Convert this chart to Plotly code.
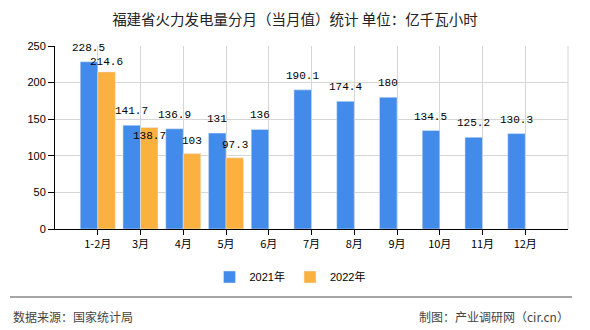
import plotly.graph_objects as go

categories = ["1-2月", "3月", "4月", "5月", "6月", "7月", "8月", "9月", "10月", "11月", "12月"]
values_2021 = [228.5, 141.7, 136.9, 131, 136, 190.1, 174.4, 180, 134.5, 125.2, 130.3]
values_2022 = [214.6, 138.7, 103, 97.3, None, None, None, None, None, None, None]
series_names = ["2021年", "2022年"]
title_text = "福建省火力发电量分月（当月值）统计 单位：亿千瓦小时"
source_text = "数据来源：国家统计局"
credit_text = "制图：产业调研网（cir.cn）"

# label placement (pixels above the bar top); a few are nudged to avoid collisions
label_shift_2021 = [14] * len(values_2021)
label_shift_2022 = [9.5, -9, 13, 13, 0, 0, 0, 0, 0, 0, 0]

blue = "#428bea"
orange = "#fbb140"
label_font = dict(family="Liberation Mono, monospace", size=11, color="#000")

fig = go.Figure()
fig.add_bar(x=categories, y=values_2021, name=series_names[0], marker_color=blue)
fig.add_bar(x=categories, y=values_2022, name=series_names[1], marker_color=orange)

fig.update_layout(
    width=590, height=330,
    margin=dict(l=55, r=22, t=46, b=101),
    paper_bgcolor="white", plot_bgcolor="white",
    barmode="group", bargap=0.18, bargroupgap=0,
    font=dict(family="Noto Sans CJK SC, sans-serif", size=11, color="#000"),
    title=dict(text=title_text, x=0.5, xanchor="center", y=1 - 20 / 330, yanchor="middle",
               font=dict(size=14.5, color="#222", family="Noto Sans CJK SC, sans-serif")),
    legend=dict(orientation="h", x=(290 - 55) / 513, xanchor="center",
                y=-(277 - 229) / 183, yanchor="middle",
                font=dict(size=11, family="Liberation Sans, Noto Sans CJK SC, sans-serif"),
                itemwidth=30, traceorder="normal"),
    xaxis=dict(range=[-1, 11], showgrid=True, gridcolor="#d6d6d6", gridwidth=1,
               showline=True, linecolor="#000", linewidth=1,
               ticks="outside", ticklen=5, tickcolor="#000",
               tickfont=dict(size=11, family="Noto Sans CJK SC, sans-serif")),
    yaxis=dict(range=[0, 250], dtick=50, showgrid=True, gridcolor="#d6d6d6", gridwidth=1,
               showline=True, linecolor="#000", linewidth=1, zeroline=False,
               ticks="outside", ticklen=6, tickcolor="#000",
               tickfont=dict(size=11, family="Liberation Sans, sans-serif")),
)

# value labels anchored to data coordinates of each bar
half = 42.75 * 0.82 / 4  # half of one bar's pixel width (group of two bars)
for cat, v, s in zip(categories, values_2021, label_shift_2021):
    fig.add_annotation(x=cat, y=v, xref="x", yref="y", text=f"{v:g}", showarrow=False,
                       xshift=-half, yshift=s, yanchor="middle", xanchor="center",
                       font=label_font)
for cat, v, s in zip(categories, values_2022, label_shift_2022):
    if v is None:
        continue
    fig.add_annotation(x=cat, y=v, xref="x", yref="y", text=f"{v:g}", showarrow=False,
                       xshift=half, yshift=s, yanchor="middle", xanchor="center",
                       font=label_font)

fig.add_shape(type="line", xref="paper", yref="paper", x0=1, x1=1, y0=0, y1=1,
              line=dict(color="#d6d6d6", width=1))
fig.add_shape(type="line", xref="paper", yref="paper", x0=(10 - 55) / 513, x1=(572 - 55) / 513,
              y0=-(297 - 229) / 183, y1=-(297 - 229) / 183, line=dict(color="#888", width=1.5))
fig.add_annotation(text=source_text, xref="paper", yref="paper", x=(11 - 55) / 513, xanchor="left",
                   y=-(316 - 229) / 183, yanchor="middle", showarrow=False,
                   font=dict(size=12, color="#444", family="Noto Sans CJK SC, sans-serif"))
fig.add_annotation(text=credit_text, xref="paper", yref="paper", x=(571 - 55) / 513, xanchor="right",
                   y=-(316 - 229) / 183, yanchor="middle", showarrow=False,
                   font=dict(size=12, color="#444", family="Noto Sans CJK SC, sans-serif"))

fig.write_html("out.html")
